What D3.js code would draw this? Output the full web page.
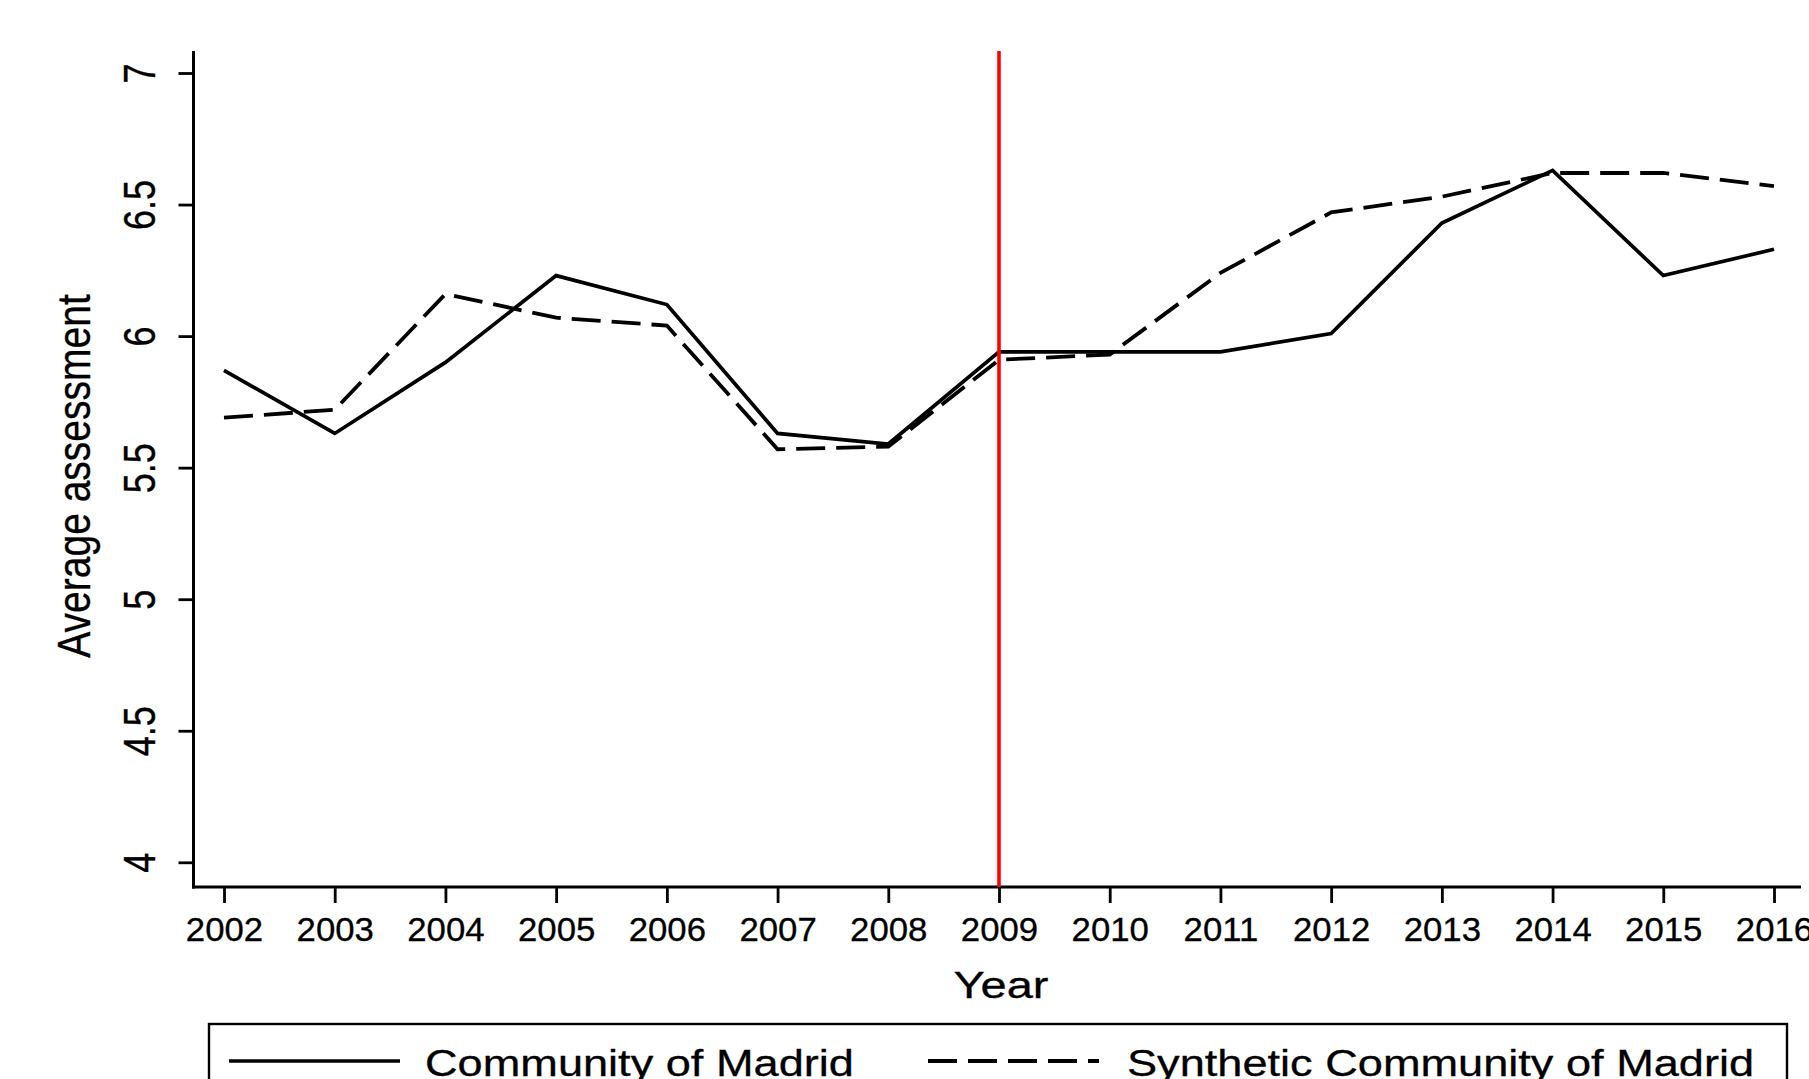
<!DOCTYPE html>
<html>
<head>
<meta charset="utf-8">
<script src="https://cdn.jsdelivr.net/npm/d3@7/dist/d3.min.js"></script>
<style>
  html, body { margin: 0; padding: 0; background: #fff; }
  svg { display: block; }
  text { font-family: "Liberation Sans", Arial, sans-serif; fill: #000; }
</style>
</head>
<body>
<svg id="chart" width="1809" height="1079"></svg>
<script>
// Average assessment, Community of Madrid vs its synthetic control
const years = [2002, 2003, 2004, 2005, 2006, 2007, 2008, 2009, 2010, 2011, 2012, 2013, 2014, 2015, 2016];
const madrid = [5.87, 5.63, 5.90, 6.23, 6.12, 5.63, 5.59, 5.94, 5.94, 5.94, 6.01, 6.43, 6.63, 6.23, 6.33];
const synthetic = [5.69, 5.72, 6.16, 6.07, 6.04, 5.57, 5.58, 5.91, 5.93, 6.24, 6.47, 6.53, 6.62, 6.62, 6.57];
const yTicks = [4, 4.5, 5, 5.5, 6, 6.5, 7];
const treatmentYear = 2009;
const seriesNames = ["Community of Madrid", "Synthetic Community of Madrid"];
const xTitle = "Year";
const yTitle = "Average assessment";

const svg = d3.select("#chart");

const x = d3.scaleLinear().domain([2002, 2016]).range([224, 1774]);
const y = d3.scaleLinear().domain([4, 7]).range([862.3, 73]);

// plot frame edges
const axisX = 193.5, axisTop = 51, axisBottomY = 887, axisRight = 1801;
const sx = 1.22; // horizontal stretch of the glyphs

// x axis
const gx = svg.append("g")
  .attr("transform", `translate(0,${axisBottomY})`)
  .call(d3.axisBottom(x).tickValues(years).tickSize(16).tickSizeOuter(0).tickFormat(d3.format("d")));
gx.select(".domain").remove();
gx.selectAll(".tick line").attr("stroke", "#000").attr("stroke-width", 2.8);
gx.selectAll(".tick text")
  .attr("y", 54).attr("dy", 0)
  .attr("font-size", 32.5)
  .attr("font-family", "Liberation Sans, Arial, sans-serif")
  .attr("fill", "#000")
  .attr("stroke", "#000").attr("stroke-width", 0.3)
  .attr("transform", "scale(1.07,1)");

// y axis
const gy = svg.append("g")
  .attr("transform", `translate(${axisX},0)`)
  .call(d3.axisLeft(y).tickValues(yTicks).tickSize(15).tickSizeOuter(0).tickFormat(d => String(d)));
gy.select(".domain").remove();
gy.selectAll(".tick line").attr("stroke", "#000").attr("stroke-width", 2.8);
gy.selectAll(".tick text")
  .attr("x", 0).attr("y", 0).attr("dy", 0)
  .attr("text-anchor", "middle")
  .attr("font-size", 36)
  .attr("font-family", "Liberation Sans, Arial, sans-serif")
  .attr("fill", "#000")
  .attr("stroke", "#000").attr("stroke-width", 0.3)
  .attr("transform", `translate(${155 - axisX},0) rotate(-90) scale(1,${sx})`);

// axis lines
svg.append("line")
  .attr("x1", axisX).attr("x2", axisX)
  .attr("y1", axisTop).attr("y2", axisBottomY + 1.4)
  .attr("stroke", "#000").attr("stroke-width", 3);
svg.append("line")
  .attr("x1", axisX - 1.5).attr("x2", axisRight)
  .attr("y1", axisBottomY).attr("y2", axisBottomY)
  .attr("stroke", "#000").attr("stroke-width", 3);

// axis titles
svg.append("text")
  .attr("text-anchor", "middle")
  .attr("font-size", 37)
  .attr("stroke", "#000").attr("stroke-width", 0.3)
  .attr("transform", `translate(1001,998) scale(1.27,1)`)
  .text(xTitle);
svg.append("text")
  .attr("text-anchor", "middle")
  .attr("font-size", 39)
  .attr("stroke", "#000").attr("stroke-width", 0.3)
  .attr("transform", `translate(90,476) rotate(-90) scale(1,1.19)`)
  .text(yTitle);

// series
const line = d3.line()
  .x((d, i) => x(years[i]))
  .y(d => y(d));

svg.append("path")
  .datum(madrid)
  .attr("d", line)
  .attr("fill", "none")
  .attr("stroke", "#000")
  .attr("stroke-width", 3.7)
  .attr("stroke-linejoin", "miter");

svg.append("path")
  .datum(synthetic)
  .attr("d", line)
  .attr("fill", "none")
  .attr("stroke", "#000")
  .attr("stroke-width", 3.8)
  .attr("stroke-dasharray", "29,11");

// treatment marker
svg.append("line")
  .attr("x1", x(treatmentYear)).attr("x2", x(treatmentYear))
  .attr("y1", axisTop).attr("y2", axisBottomY)
  .attr("stroke", "#ff0000").attr("stroke-width", 3.6);

// legend
const legend = svg.append("g");
legend.append("rect")
  .attr("x", 209).attr("y", 1024)
  .attr("width", 1787 - 209).attr("height", 120)
  .attr("fill", "none").attr("stroke", "#000").attr("stroke-width", 2.4);
legend.append("line")
  .attr("x1", 229).attr("x2", 400)
  .attr("y1", 1061).attr("y2", 1061)
  .attr("stroke", "#000").attr("stroke-width", 3.7);
legend.append("text")
  .attr("font-size", 37)
  .attr("stroke", "#000").attr("stroke-width", 0.3)
  .attr("transform", `translate(425,1076) scale(${sx},1)`)
  .text(seriesNames[0]);
legend.append("line")
  .attr("x1", 928).attr("x2", 1099)
  .attr("y1", 1061).attr("y2", 1061)
  .attr("stroke", "#000").attr("stroke-width", 3.8)
  .attr("stroke-dasharray", "29,11");
legend.append("text")
  .attr("font-size", 37)
  .attr("stroke", "#000").attr("stroke-width", 0.3)
  .attr("transform", `translate(1127,1076) scale(${sx},1)`)
  .text(seriesNames[1]);
</script>
</body>
</html>
